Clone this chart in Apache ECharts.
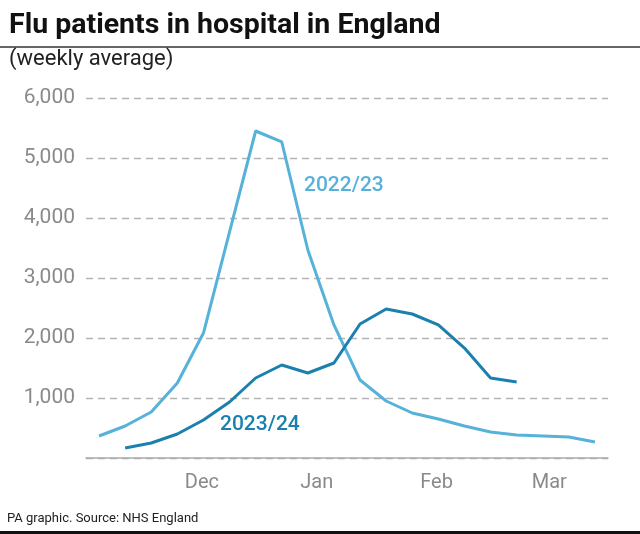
<!DOCTYPE html>
<html>
<head>
<meta charset="utf-8">
<script src="https://cdn.jsdelivr.net/npm/echarts@6/dist/echarts.min.js"></script>
<style>
html,body{margin:0;padding:0;background:#fff;}
#chart{width:640px;height:534px;}
</style>
</head>
<body>
<div id="chart"></div>
<script>
// Week index (0 = first week of November) for each season
var weeks2223 = [0,1,2,3,4,5,6,7,8,9,10,11,12,13,14,15,16,17,18,19];
var flu2223   = [367,533,767,1250,2083,3767,5450,5267,3467,2217,1300,950,750,650,533,433,383,367,350,267];
var weeks2324 = [1,2,3,4,5,6,7,8,9,10,11,12,13,14,15,16];
var flu2324   = [167,250,400,633,933,1333,1550,1417,1583,2233,2483,2400,2217,1833,1333,1267];
// Month tick label positions (in week units)
var monthPos    = [3.94, 8.34, 12.93, 17.25];
var monthLabels = ['Dec','Jan','Feb','Mar'];

var FONT = 'Roboto, "Liberation Sans", Arial, sans-serif';
var LIGHT = '#56b2d8';
var DARK = '#1c80ae';

function pairs(xs, ys){ return xs.map(function(x,i){ return [x, ys[i]]; }); }

var chart = echarts.init(document.getElementById('chart'), null, {renderer:'canvas'});
chart.setOption({
  animation:false,
  backgroundColor:'#fff',
  grid:{left:86, right:32, top:98, bottom:76, containLabel:false},
  xAxis:{
    type:'value', min:-0.5, max:19.5,
    axisLine:{show:true, lineStyle:{color:'#aaaaaa', width:1.5}},
    axisTick:{show:false},
    splitLine:{show:false},
    axisLabel:{
      customValues: monthPos,
      color:'#8a8a8a', fontSize:20, fontFamily:FONT, margin:15,
      formatter:function(v){
        for (var i=0;i<monthPos.length;i++){ if (Math.abs(monthPos[i]-v)<1e-6) return monthLabels[i]; }
        return '';
      }
    }
  },
  yAxis:{
    type:'value', min:0, max:6000, interval:1000,
    axisLine:{show:false}, axisTick:{show:false},
    splitLine:{show:true, lineStyle:{color:'#b4b4b4', type:[7,5], width:1.3}},
    axisLabel:{
      color:'#8a8a8a', fontSize:21, fontFamily:FONT, margin:11,
      formatter:function(v){ return v===0 ? '' : v.toLocaleString('en-GB'); }
    }
  },
  series:[
    {name:'2022/23', type:'line', data:pairs(weeks2223, flu2223), symbol:'none',
     lineStyle:{color:LIGHT, width:3}, z:2},
    {name:'2023/24', type:'line', data:pairs(weeks2324, flu2324), symbol:'none',
     lineStyle:{color:DARK, width:3}, z:3}
  ],
  graphic:[
    {type:'text', left:9, top:11, style:{text:'Flu patients in hospital in England', fill:'#111', font:'bold 28.5px '+FONT}},
    {type:'line', shape:{x1:0,y1:47,x2:640,y2:47}, style:{stroke:'#333', lineWidth:1.5}},
    {type:'text', left:9, top:48, style:{text:'(weekly average)', fill:'#222', font:'22px '+FONT}},
    {type:'text', left:304, top:175, style:{text:'2022/23', fill:LIGHT, font:'500 21px '+FONT}},
    {type:'text', left:220, top:414, style:{text:'2023/24', fill:DARK, font:'500 21px '+FONT}},
    {type:'text', left:7, top:512, style:{text:'PA graphic. Source: NHS England', fill:'#222', font:'13px '+FONT}},
    {type:'line', shape:{x1:0,y1:532.5,x2:640,y2:532.5}, style:{stroke:'#111', lineWidth:3}}
  ]
});
</script>
</body>
</html>
